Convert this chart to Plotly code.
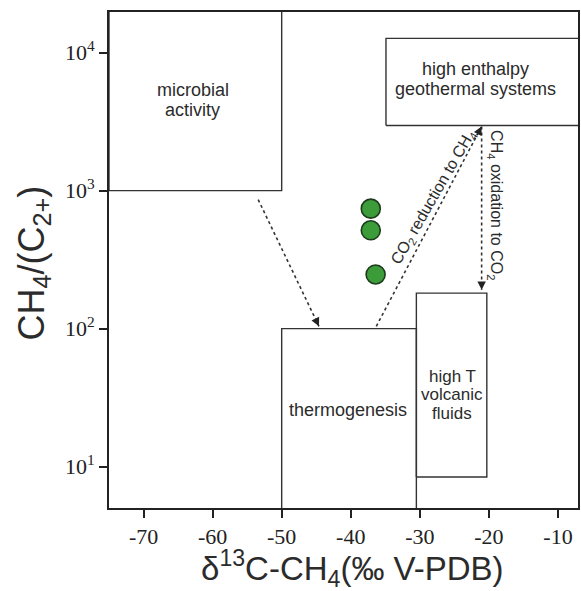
import math
import plotly.graph_objects as go

# measured samples
d13c_ch4 = [-37.1, -37.1, -36.4]
ch4_c2 = [741, 516, 247]

# genetic fields: rectangle limits in data units
field_names = ["microbial", "thermogenesis", "volcanic", "geothermal"]
field_x0 = [-75, -50, -30.5, -34.9]
field_x1 = [-50, -30.5, -20.3, -5]
field_y0 = [1000, 4, 8.4, 2970]
field_y1 = [20000, 100, 181, 12700]

# process arrows: start -> end
arrow_x0 = [-53.4, -36.3, -21.05]
arrow_y0 = [861, 104, 2920]
arrow_x1 = [-44.6, -21.05, -21.05]
arrow_y1 = [104, 2920, 191]

x_ticks = [-70, -60, -50, -40, -30, -20, -10]
x_ticklabels = ["-70", "-60", "-50", "-40", "-30", "-20", "-10"]
y_ticks = [10, 100, 1000, 10000]
y_ticklabels = ["10<sup>1</sup>", "10<sup>2</sup>", "10<sup>3</sup>", "10<sup>4</sup>"]

SANS = "Liberation Sans, Arial"
SERIF = "Liberation Serif, Times New Roman"
INK = "#2b2b2b"

fig = go.Figure()

# field boxes
for x0, x1, y0, y1 in zip(field_x0, field_x1, field_y0, field_y1):
    fig.add_trace(go.Scatter(
        x=[x0, x1, x1, x0, x0], y=[y0, y0, y1, y1, y0],
        mode="lines", line=dict(color="#333", width=1.4),
        hoverinfo="skip", showlegend=False))

# dotted process lines + arrowheads
for x0, y0, x1, y1 in zip(arrow_x0, arrow_y0, arrow_x1, arrow_y1):
    fig.add_trace(go.Scatter(
        x=[x0, x1], y=[y0, y1], mode="lines",
        line=dict(color="#333", width=1.6, dash="dot"),
        hoverinfo="skip", showlegend=False))
    f = 0.05
    ly0, ly1 = math.log10(y0), math.log10(y1)
    fig.add_annotation(
        x=x1, y=ly1, ax=x1 - f * (x1 - x0), ay=ly1 - f * (ly1 - ly0),
        xref="x", yref="y", axref="x", ayref="y", text="",
        showarrow=True, arrowhead=2, arrowsize=1.3, arrowwidth=1.3,
        arrowcolor="#222", standoff=0)

# samples
fig.add_trace(go.Scatter(
    x=d13c_ch4, y=ch4_c2, mode="markers",
    marker=dict(size=19, color="#3c9c3a", line=dict(color="#1d3b1c", width=1.6)),
    showlegend=False))


def label(lines, x, y, size=18, gap=20):
    n = len(lines)
    for i, t in enumerate(lines):
        fig.add_annotation(
            x=x, y=y, xref="x", yref="y", text=t, showarrow=False,
            yshift=((n - 1) / 2 - i) * gap, borderpad=0,
            font=dict(family=SANS, size=size, color=INK))


label(["microbial", "activity"], -62.9, 3.657)
label(["high enthalpy", "geothermal systems"], -21.96, 3.81)
label(["thermogenesis"], -40.4, 1.413)
label(["high T", "volcanic", "fluids"], -25.3, 1.52, size=17, gap=18.5)

fig.add_annotation(
    x=-28.0, y=2.948, xref="x", yref="y", showarrow=False, textangle=-60,
    text="CO<sub>2</sub> reduction to CH<sub>4</sub>",
    font=dict(family=SANS, size=16, color=INK))
fig.add_annotation(
    x=-19.15, y=2.897, xref="x", yref="y", showarrow=False, textangle=90,
    text="CH<sub>4</sub> oxidation to CO<sub>2</sub>",
    font=dict(family=SANS, size=16, color=INK))

# axis titles
fig.add_annotation(
    x=-0.161, y=0.494, xref="paper", yref="paper", showarrow=False,
    xanchor="center", yanchor="middle",
    textangle=-90, text="CH<sub>4</sub>/(C<sub>2+</sub>)",
    font=dict(family=SANS, size=36, color=INK))
fig.add_annotation(
    x=0.52, y=-0.122, xref="paper", yref="paper", showarrow=False,
    xanchor="center", yanchor="middle", borderpad=0,
    text="δ<sup>13</sup>C-CH<sub>4</sub>(‰ V-PDB)",
    font=dict(family=SANS, size=33, color=INK))

axis_common = dict(
    showgrid=False, zeroline=False, showline=True, linecolor="#222",
    linewidth=2, mirror=True, ticks="outside", ticklen=8, tickwidth=2,
    tickcolor="#222", tickfont=dict(family=SERIF, size=22, color="#222"))

fig.update_xaxes(range=[-75, -7.1], tickvals=x_ticks, ticktext=x_ticklabels,
                 **axis_common)
fig.update_yaxes(type="log", range=[0.70, 4.295], tickvals=y_ticks,
                 ticktext=y_ticklabels, **axis_common)

fig.update_layout(
    width=581, height=591,
    margin=dict(l=109, r=1, t=12, b=83),
    plot_bgcolor="white", paper_bgcolor="white",
    showlegend=False)

fig.write_html("out.html", config={"displayModeBar": False},
               post_script="document.body.style.margin='0';")
